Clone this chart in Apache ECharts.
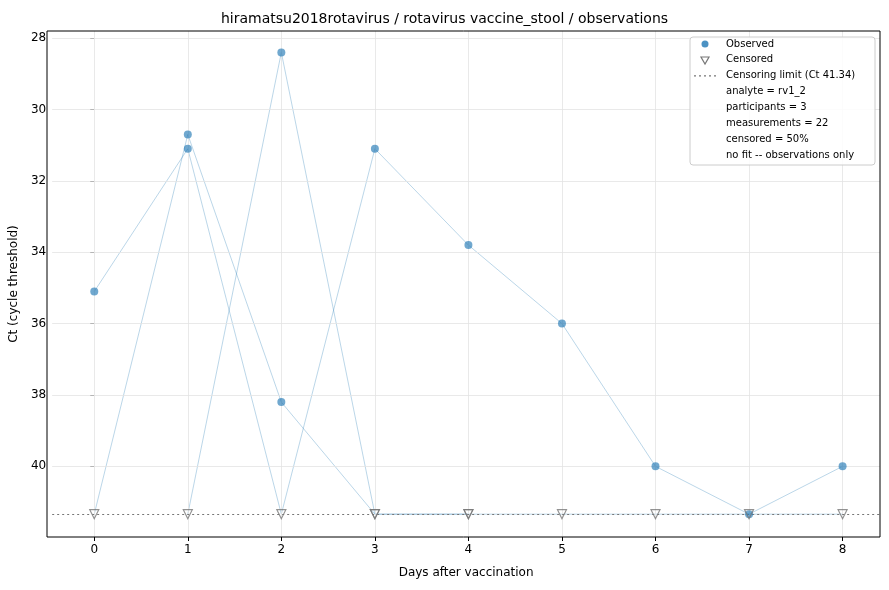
<!DOCTYPE html>
<html>
<head>
<meta charset="utf-8">
<script src="https://cdn.jsdelivr.net/npm/echarts@6/dist/echarts.min.js"></script>
<style>html,body{margin:0;padding:0;background:#fff}#main{width:889px;height:590px}</style>
</head>
<body>
<div id="main"></div>
<script>
var LIMIT = 41.34;
// per participant: days, ct values, censored flags
var p1Days = [0, 1, 2, 3, 4, 5, 6, 7, 8];
var p1Ct = [35.1, 31.1, 41.34, 31.1, 33.8, 36.0, 40.0, 41.34, 40.0];
var p1Cens = [0, 0, 1, 0, 0, 0, 0, 0, 0];
var p2Days = [0, 1, 2, 3, 4, 5, 6, 7, 8];
var p2Ct = [41.34, 30.7, 38.2, 41.34, 41.34, 41.34, 41.34, 41.34, 41.34];
var p2Cens = [1, 0, 0, 1, 1, 1, 1, 1, 1];
var p3Days = [1, 2, 3, 4];
var p3Ct = [41.34, 28.4, 41.34, 41.34];
var p3Cens = [1, 0, 1, 1];
var xTicks = [0, 1, 2, 3, 4, 5, 6, 7, 8];
var yTicks = [28, 30, 32, 34, 36, 38, 40];
var legendNotes = ['analyte = rv1_2', 'participants = 3', 'measurements = 22', 'censored = 50%', 'no fit -- observations only'];

var parts = [[p1Days, p1Ct, p1Cens], [p2Days, p2Ct, p2Cens], [p3Days, p3Ct, p3Cens]];
var series = [];
var obs = [], cens = [];
parts.forEach(function (p) {
    var line = [];
    for (var i = 0; i < p[0].length; i++) {
        line.push([p[0][i], p[1][i]]);
        if (p[2][i]) cens.push([p[0][i], p[1][i]]); else obs.push([p[0][i], p[1][i]]);
    }
    series.push({type: 'line', data: line, symbol: 'none', silent: true,
        lineStyle: {color: 'rgba(31,119,180,0.3)', width: 1}, z: 2});
});
var gridLines = [];
yTicks.forEach(function (v) { gridLines.push({yAxis: v}); });
xTicks.forEach(function (v) { gridLines.push({xAxis: v}); });
series.push({type: 'line', data: [], silent: true,
    markLine: {silent: true, symbol: 'none', label: {show: false},
        lineStyle: {color: '#e3e3e3', type: 'solid', width: 0.8}, data: gridLines}, z: 1});
series.push({type: 'line', data: [], silent: true,
    markLine: {silent: true, symbol: 'none', label: {show: false},
        lineStyle: {color: '#777', type: [2, 3], width: 1.2}, data: [{yAxis: LIMIT}]}, z: 3});
series.push({type: 'scatter', data: obs, symbol: 'circle', symbolSize: 8,
    itemStyle: {color: 'rgba(31,119,180,0.8)'}, z: 5});
series.push({type: 'scatter', data: cens, symbol: 'triangle', symbolRotate: 180, symbolSize: 9,
    itemStyle: {color: 'rgba(255,255,255,0)', borderColor: '#777', borderWidth: 1.2}, z: 5});

var lx = 690, ly = 37;
var g = [{type: 'rect', shape: {x: lx, y: ly, width: 185, height: 128, r: 3},
    style: {fill: 'rgba(255,255,255,0.85)', stroke: '#ccc', lineWidth: 1}, z: 10}];
var rows = ['Observed', 'Censored', 'Censoring limit (Ct 41.34)'].concat(legendNotes);
rows.forEach(function (t, i) {
    g.push({type: 'text', x: lx + 36, y: ly + 7 + i * 15.9, z: 11,
        style: {text: t, font: '10px DejaVu Sans', fill: '#000', textVerticalAlign: 'middle'}});
});
g.push({type: 'circle', shape: {cx: lx + 15, cy: ly + 7, r: 3.5}, style: {fill: 'rgba(31,119,180,0.8)'}, z: 11});
g.push({type: 'polygon', shape: {points: [[lx + 11, ly + 20], [lx + 19, ly + 20], [lx + 15, ly + 27]]},
    style: {fill: 'none', stroke: '#777', lineWidth: 1.2}, z: 11});
g.push({type: 'line', shape: {x1: lx + 4, y1: ly + 38.8, x2: lx + 27, y2: ly + 38.8},
    style: {stroke: '#777', lineWidth: 1.2, lineDash: [2, 3]}, z: 11});
// frame around the plot area, like matplotlib
g.push({type: 'rect', shape: {x: 47, y: 31, width: 833, height: 506},
    style: {fill: 'none', stroke: '#000', lineWidth: 1}, z: 9, silent: true});

var chart = echarts.init(document.getElementById('main'));
chart.setOption({
    animation: false,
    title: {text: 'hiramatsu2018rotavirus / rotavirus vaccine_stool / observations', left: 'center', top: 7,
        textStyle: {fontFamily: 'DejaVu Sans', fontSize: 14, fontWeight: 'normal', color: '#000'}},
    grid: {left: 47, right: 9, top: 31, bottom: 53},
    xAxis: {type: 'value', min: -0.45, max: 8.4, name: 'Days after vaccination', nameLocation: 'middle', nameGap: 30,
        nameTextStyle: {fontFamily: 'DejaVu Sans', fontSize: 12, color: '#000'},
        axisLine: {show: false},
        axisTick: {show: true, customValues: xTicks, length: 4, lineStyle: {color: '#000'}},
        axisLabel: {customValues: xTicks, color: '#000', fontFamily: 'DejaVu Sans', fontSize: 12, margin: 7},
        splitLine: {show: false}},
    yAxis: {type: 'value', inverse: true, min: 27.8, max: 41.98, name: 'Ct (cycle threshold)', nameLocation: 'middle', nameGap: 32,
        nameTextStyle: {fontFamily: 'DejaVu Sans', fontSize: 12, color: '#000'},
        axisLine: {show: false},
        axisTick: {show: true, customValues: yTicks, length: 4, lineStyle: {color: '#000'}},
        axisLabel: {customValues: yTicks, color: '#000', fontFamily: 'DejaVu Sans', fontSize: 12, margin: 6},
        splitLine: {show: false}},
    series: series,
    graphic: g
});
</script>
</body>
</html>
